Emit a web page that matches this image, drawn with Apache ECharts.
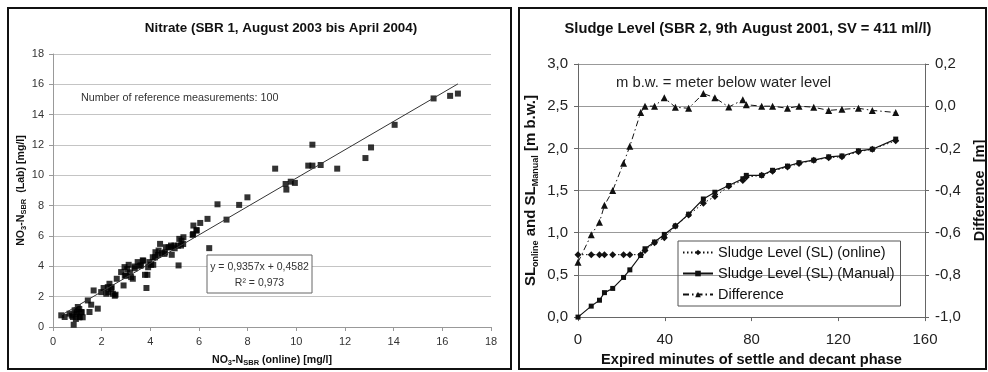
<!DOCTYPE html>
<html>
<head>
<meta charset="utf-8">
<script src="https://cdn.jsdelivr.net/npm/echarts/dist/echarts.min.js"></script>
<style>
html,body{margin:0;padding:0;background:#fff;}
#c{width:988px;height:372px;}
</style>
</head>
<body>
<div id="c"></div>
<script>
// ---------- Left chart: Nitrate ----------
const nitrateOnline = [0.34,0.48,0.68,0.85,0.89,1.02,1.10,0.96,1.16,0.82,1.43,1.50,1.57,1.67,1.84,1.98,2.08,2.19,2.25,2.32,2.39,2.46,2.57,2.62,2.80,2.90,2.94,3.00,3.11,3.21,3.28,3.35,3.48,3.62,3.69,3.78,3.84,3.88,3.96,4.03,4.10,4.12,4.21,4.34,4.40,4.48,4.58,4.64,4.75,4.85,4.88,4.99,5.16,5.19,5.26,5.36,5.74,5.77,5.90,6.05,6.35,6.42,6.76,7.13,7.65,7.99,9.13,9.56,9.59,9.77,9.94,10.49,10.66,10.66,11.00,11.68,12.84,13.07,14.04,15.64,16.32,16.64,
  0.77,0.97,1.08,1.18,0.94,1.22,1.08,2.41,2.27,2.54,2.95,3.05,3.16,3.36,3.57,3.71,3.91,4.19,4.32,4.60,4.87,5.00,5.14,5.28,5.35,5.76,5.90];
const nitrateLab = [0.77,0.66,0.88,0.15,1.10,1.32,0.66,0.88,0.99,0.66,1.75,0.99,1.47,2.41,1.21,2.30,2.57,2.19,2.63,2.85,2.52,2.19,2.13,3.18,3.62,2.74,3.95,3.40,4.10,3.29,3.18,3.99,4.28,4.06,4.39,3.44,2.57,3.44,4.28,4.10,4.60,4.10,4.93,5.04,5.48,4.87,4.82,5.26,5.26,5.37,4.76,5.37,4.06,5.81,5.37,5.92,6.07,6.69,6.40,6.86,7.13,5.20,8.09,7.08,8.05,8.55,10.44,9.43,9.06,9.58,9.50,10.64,12.02,10.64,10.68,10.44,11.14,11.84,13.33,15.07,15.24,15.39,
  0.75,0.97,0.64,0.97,0.53,0.64,1.19,2.62,2.29,2.06,3.38,3.82,3.60,3.87,4.04,4.37,3.94,4.59,4.75,4.92,5.25,5.19,5.36,5.69,5.47,6.13,6.35];
const regSlope = 0.9357;
const regIntercept = 0.4582;

// ---------- Right chart: Sludge level ----------
const minutes = [0,6.1,9.9,12.2,16,21,23.9,28.9,30.9,35.3,39.8,44.9,51,57.8,63.1,69.5,76,77.6,84.7,89.7,96.6,101.9,108.7,115.6,121.7,129.3,135.7,146.5];
const slOnline = [0.74,0.74,0.74,0.74,0.74,0.74,0.74,0.74,0.79,0.88,0.94,1.08,1.21,1.35,1.43,1.55,1.62,1.66,1.68,1.73,1.78,1.82,1.86,1.89,1.90,1.96,1.99,2.09];
const slManual = [0,0.13,0.20,0.29,0.34,0.47,0.56,0.73,0.81,0.89,0.98,1.08,1.22,1.40,1.48,1.56,1.64,1.68,1.68,1.74,1.79,1.83,1.86,1.90,1.91,1.97,1.99,2.11];
const slDifference = [-0.74,-0.61,-0.55,-0.47,-0.40,-0.27,-0.19,-0.03,0.00,0.00,0.04,-0.005,-0.01,0.06,0.04,-0.004,0.03,0.007,0.00,0.00,-0.01,0.00,-0.005,-0.02,-0.015,-0.01,-0.02,-0.03];

const FF = '"Liberation Sans", Arial, sans-serif';
const comma1 = v => (Math.round(v*10)/10).toFixed(1).replace('.', ',').replace('-0,0','0,0');

const scatterData = nitrateOnline.map((x,i)=>[x, nitrateLab[i]]);
const xMin = Math.min(...nitrateOnline), xMax = Math.max(...nitrateOnline);
const regLine = [[xMin, regSlope*xMin+regIntercept],[xMax, regSlope*xMax+regIntercept]];

const chart = echarts.init(document.getElementById('c'), null, {renderer:'canvas'});
const option = {
  animation:false,
  textStyle:{fontFamily:FF},
  title:[
    {text:'Nitrate (SBR 1, August 2003 bis April 2004)', left:281, top:22, padding:0, textAlign:'center',
     textStyle:{fontFamily:FF, fontSize:13.4, fontWeight:'bold', color:'#111'}},
    {text:'Sludge Level (SBR 2, 9th August 2001, SV = 411 ml/l)', left:748, top:21, padding:0, textAlign:'center',
     textStyle:{fontFamily:FF, fontSize:14.7, fontWeight:'bold', color:'#111'}}
  ],
  grid:[
    {left:53, top:54, width:438, height:274},
    {left:578, top:64, width:351, height:255}
  ],
  xAxis:[
    {gridIndex:0, type:'value', min:0, max:18, interval:2,
     axisLine:{show:true, lineStyle:{color:'#999'}},
     axisTick:{show:true, length:4, lineStyle:{color:'#999'}},
     axisLabel:{fontSize:11, color:'#333', margin:9, fontFamily:FF},
     splitLine:{show:false},
     name:'{n|NO}{s|3}{n|-N}{s|SBR}{n| (online) [mg/l]}', nameLocation:'middle', nameGap:28,
     nameTextStyle:{rich:{
       n:{fontSize:10.6, fontWeight:'bold', color:'#111', fontFamily:FF, lineHeight:12, verticalAlign:'top'},
       s:{fontSize:7.5, fontWeight:'bold', color:'#111', fontFamily:FF, lineHeight:8, padding:[5,0,0,0], verticalAlign:'bottom'}}}
    },
    {gridIndex:1, type:'value', min:0, max:160, interval:40,
     axisLine:{show:true, lineStyle:{color:'#666'}},
     axisTick:{show:true, length:4, lineStyle:{color:'#666'}},
     axisLabel:{fontSize:15, color:'#222', margin:15, fontFamily:FF},
     splitLine:{show:false},
     name:'Expired minutes of settle and decant phase', nameLocation:'middle', nameGap:34,
     nameTextStyle:{fontSize:14.6, fontWeight:'bold', color:'#111', fontFamily:FF}
    }
  ],
  yAxis:[
    {gridIndex:0, type:'value', min:0, max:18, interval:2,
     axisLine:{show:true, lineStyle:{color:'#999'}},
     axisTick:{show:true, length:4, lineStyle:{color:'#999'}},
     axisLabel:{fontSize:11, color:'#333', margin:9, fontFamily:FF},
     splitLine:{show:true, lineStyle:{color:'#c4c4c4'}},
     name:'{n|NO}{s|3}{n|-N}{s|SBR}{n|  (Lab) [mg/l]}', nameLocation:'middle', nameGap:22,
     nameTextStyle:{rich:{
       n:{fontSize:10.6, fontWeight:'bold', color:'#111', fontFamily:FF, lineHeight:12, verticalAlign:'top'},
       s:{fontSize:7.5, fontWeight:'bold', color:'#111', fontFamily:FF, lineHeight:8, padding:[5,0,0,0], verticalAlign:'bottom'}}}
    },
    {gridIndex:1, type:'value', min:0, max:3, interval:0.5, position:'left',
     axisLine:{show:true, lineStyle:{color:'#666'}},
     axisTick:{show:true, length:4, lineStyle:{color:'#666'}},
     axisLabel:{fontSize:15, color:'#222', margin:10, fontFamily:FF, formatter:comma1},
     splitLine:{show:true, lineStyle:{color:'#999'}},
     name:'{n|SL}{s|online}{n| and SL}{s|Manual}{n| [m b.w.]}', nameLocation:'middle', nameGap:38,
     nameTextStyle:{rich:{
       n:{fontSize:15, fontWeight:'bold', color:'#111', fontFamily:FF, lineHeight:17, verticalAlign:'top'},
       s:{fontSize:9, fontWeight:'bold', color:'#111', fontFamily:FF, lineHeight:10, padding:[8,0,0,0], verticalAlign:'bottom'}}}
    },
    {gridIndex:1, type:'value', min:-1, max:0.2, interval:0.2, position:'right',
     axisLine:{show:true, lineStyle:{color:'#666'}},
     axisTick:{show:true, length:4, lineStyle:{color:'#666'}},
     axisLabel:{fontSize:15, color:'#222', margin:10, fontFamily:FF, formatter:comma1},
     splitLine:{show:false},
     name:'Difference  [m]', nameLocation:'middle', nameGap:47,
     nameTextStyle:{fontSize:14.5, fontWeight:'bold', color:'#111', fontFamily:FF}
    }
  ],
  legend:{
    left:678, top:241, orient:'vertical', itemGap:6, itemWidth:30, itemHeight:7,
    borderColor:'#555', borderWidth:1, padding:[4,6,4,4], borderRadius:0,
    textStyle:{fontSize:14.5, color:'#111', fontFamily:FF},
    data:['Sludge Level (SL) (online)','Sludge Level (SL) (Manual)','Difference']
  },
  series:[
    {type:'scatter', xAxisIndex:0, yAxisIndex:0, data:scatterData, symbol:'rect', symbolSize:6,
     itemStyle:{color:'#000'}, z:3},
    {type:'line', xAxisIndex:0, yAxisIndex:0, data:regLine, symbol:'none',
     lineStyle:{color:'#333', width:1}, z:4},
    {name:'Sludge Level (SL) (online)', type:'line', xAxisIndex:1, yAxisIndex:1,
     data:minutes.map((m,i)=>[m, slOnline[i]]), symbol:'diamond', symbolSize:7,
     itemStyle:{color:'#111'}, lineStyle:{color:'#111', width:1, type:[1.5,2.5]}},
    {name:'Sludge Level (SL) (Manual)', type:'line', xAxisIndex:1, yAxisIndex:1,
     data:minutes.map((m,i)=>[m, slManual[i]]), symbol:'rect', symbolSize:5,
     itemStyle:{color:'#111'}, lineStyle:{color:'#111', width:1.2, type:'solid'}},
    {name:'Difference', type:'line', xAxisIndex:1, yAxisIndex:2,
     data:minutes.map((m,i)=>[m, slDifference[i]]), symbol:'triangle', symbolSize:7,
     itemStyle:{color:'#111'}, lineStyle:{color:'#111', width:1, type:[6,3,1.5,3]}}
  ],
  graphic:[
    {type:'rect', shape:{x:8, y:8, width:503, height:361}, style:{fill:'none', stroke:'#111', lineWidth:2}, silent:true, z:-1},
    {type:'rect', shape:{x:519, y:8, width:467, height:361}, style:{fill:'none', stroke:'#111', lineWidth:2}, silent:true, z:-1},
    {type:'text', left:81, top:93, style:{text:'Number of reference measurements: 100', fontSize:10.8, fill:'#333', fontFamily:FF}},
    {type:'rect', shape:{x:207, y:255, width:105, height:38}, style:{fill:'#fff', stroke:'#666', lineWidth:1}, z:10},
    {type:'text', x:259.5, y:267, z:11, style:{text:'y = 0,9357x + 0,4582', fontSize:10.5, fill:'#333', fontFamily:FF, align:'center', verticalAlign:'middle'}},
    {type:'text', x:259.5, y:283, z:11, style:{text:'R² = 0,973', fontSize:10.5, fill:'#333', fontFamily:FF, align:'center', verticalAlign:'middle'}},
    {type:'text', left:616, top:75, style:{text:'m b.w. = meter below water level', fontSize:14.8, fill:'#222', fontFamily:FF}}
  ]
};
chart.setOption(option);
</script>
</body>
</html>
